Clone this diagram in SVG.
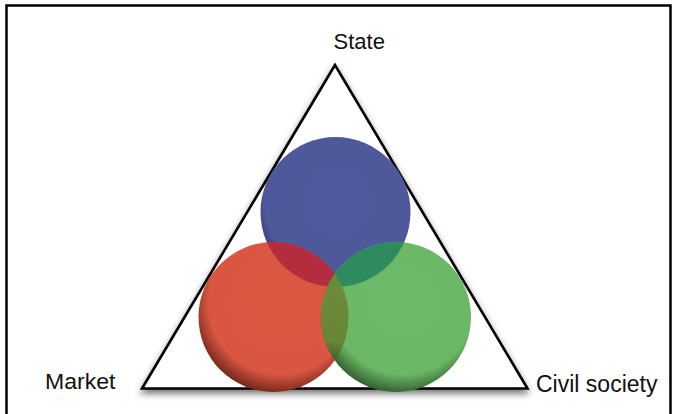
<svg xmlns="http://www.w3.org/2000/svg" width="676" height="414" viewBox="0 0 676 414">
  <style>
    .lbl { font-family: "Liberation Sans", Arial, sans-serif; fill: #111; }
    .frame { fill: none; stroke: #000; stroke-width: 2.5; }
    .tri { fill: #fff; stroke: #000; stroke-width: 2.6; stroke-linejoin: miter; }
  </style>
  <defs>
    <filter id="shadow" x="-20%" y="-20%" width="140%" height="140%">
      <feDropShadow dx="0" dy="4" stdDeviation="3.5" flood-color="#000" flood-opacity="0.55"/>
    </filter>
    <radialGradient id="gBlue" cx="0.52" cy="0.42" r="0.6">
      <stop offset="0" stop-color="#4f5a9e"/>
      <stop offset="0.82" stop-color="#4e599c"/>
      <stop offset="1" stop-color="#2e3566"/>
    </radialGradient>
    <radialGradient id="gRed" cx="0.55" cy="0.4" r="0.62">
      <stop offset="0" stop-color="#dc5843"/>
      <stop offset="0.78" stop-color="#d95642"/>
      <stop offset="1" stop-color="#6e2418"/>
    </radialGradient>
    <radialGradient id="gGreen" cx="0.55" cy="0.4" r="0.62">
      <stop offset="0" stop-color="#6dba6a"/>
      <stop offset="0.78" stop-color="#6ab766"/>
      <stop offset="1" stop-color="#2e5a2c"/>
    </radialGradient>
    <radialGradient id="gOlive" cx="340" cy="285" r="80" gradientUnits="userSpaceOnUse">
      <stop offset="0" stop-color="#6c8c3c"/>
      <stop offset="0.7" stop-color="#678636"/>
      <stop offset="1" stop-color="#3f5a24"/>
    </radialGradient>
    <clipPath id="cBlue"><circle cx="335.5" cy="212" r="75"/></clipPath>
    <clipPath id="cRed"><circle cx="273.5" cy="317" r="75"/></clipPath>
    <clipPath id="cGreen"><circle cx="396" cy="317" r="75"/></clipPath>
  </defs>

  <rect x="0" y="0" width="676" height="414" fill="#fff"/>
  <path class="frame" d="M6.5,420 V5.5 H670.5 V420"/>

  <g id="connectors">
    <g id="triangle">
      <polygon class="tri" points="335,65 142,388.5 527.5,388.5" filter="url(#shadow)"/>
    </g>
  </g>

  <g id="circle-state">
    <circle cx="335.5" cy="212" r="75" fill="url(#gBlue)"/>
  </g>
  <g id="circle-market">
    <circle cx="273.5" cy="317" r="75" fill="url(#gRed)"/>
    <g clip-path="url(#cBlue)">
      <circle cx="273.5" cy="317" r="75" fill="#b32d3f"/>
    </g>
  </g>
  <g id="circle-civil">
    <circle cx="396" cy="317" r="75" fill="url(#gGreen)"/>
    <g clip-path="url(#cBlue)">
      <circle cx="396" cy="317" r="75" fill="#2e8b5d"/>
    </g>
    <g clip-path="url(#cRed)">
      <circle cx="396" cy="317" r="75" fill="url(#gOlive)"/>
    </g>
  </g>

  <g id="label-state">
    <text class="lbl" x="333.5" y="49" font-size="22">State</text>
  </g>
  <g id="label-market">
    <text class="lbl" x="45" y="389" font-size="22" textLength="70.5" lengthAdjust="spacingAndGlyphs">Market</text>
  </g>
  <g id="label-civil">
    <text class="lbl" x="536" y="392" font-size="23.5" textLength="121.5" lengthAdjust="spacingAndGlyphs">Civil society</text>
  </g>
</svg>
